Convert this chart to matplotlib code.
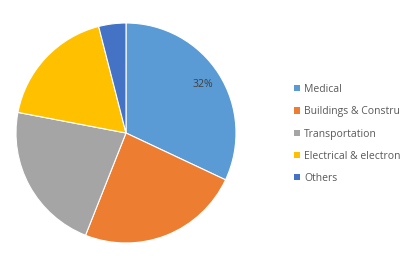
import matplotlib
matplotlib.use("Agg")
import matplotlib.pyplot as plt

categories = ["Medical", "Buildings & Construction", "Transportation", "Electrical & electronics", "Others"]
values = [32, 24, 22, 18, 4]
colors = ["#5B9BD5", "#ED7D31", "#A5A5A5", "#FFC000", "#4472C4"]

plt.rcParams['font.family'] = ['Open Sans', 'DejaVu Sans']

fig = plt.figure(figsize=(4, 2.66), dpi=100)
W, H = 400, 266
cx, cy, r = 126, 133, 110
ax = fig.add_axes([(cx - r) / W, (H - cy - r) / H, 2 * r / W, 2 * r / H])
wedges, texts, autotexts = ax.pie(
    values, colors=colors, startangle=90, counterclock=False,
    autopct=lambda p: f"{p:.0f}%" if p > 30 else "", pctdistance=0.83,
    wedgeprops=dict(edgecolor="white", linewidth=0.8),
    textprops=dict(fontsize=7.6, color="#404040"))
ax.set_xlim(-1, 1)
ax.set_ylim(-1, 1)
ax.set_aspect("equal")
ax.axis("off")

leg = fig.legend(wedges, categories, loc="upper left",
                 bbox_to_anchor=(294 / W, (H - 84) / H),
                 frameon=False, fontsize=7.5, handlelength=0.55, handleheight=0.55,
                 handletextpad=0.45, labelspacing=1.08, borderpad=0, borderaxespad=0)
for t in leg.get_texts():
    t.set_color("#595959")
for h in leg.legend_handles:
    h.set_edgecolor("none")

fig.savefig("out.png", dpi=100)
